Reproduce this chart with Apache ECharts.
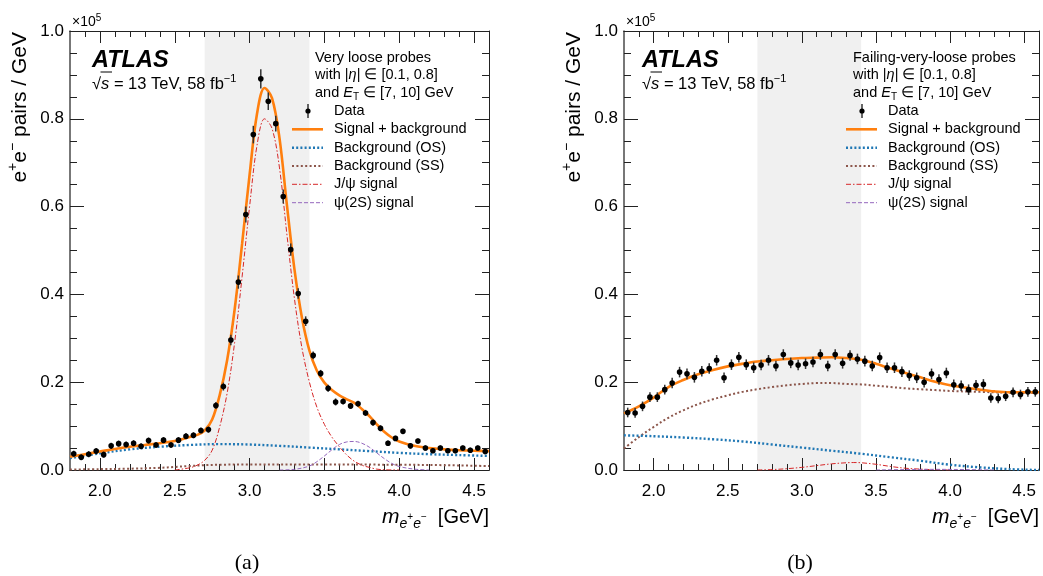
<!DOCTYPE html>
<html>
<head>
<meta charset="utf-8">
<script src="https://cdn.jsdelivr.net/npm/echarts@6/dist/echarts.min.js"></script>
<style>html,body{margin:0;padding:0;background:#fff}#c{width:1043px;height:576px}</style>
</head>
<body>
<div id="c"></div>
<script>
// ---------------- DATA ----------------
const binCenters = [1.825,1.875,1.925,1.975,2.025,2.075,2.125,2.175,2.225,2.275,2.325,2.375,2.425,2.475,2.525,2.575,2.625,2.675,2.725,2.775,2.825,2.875,2.925,2.975,3.025,3.075,3.125,3.175,3.225,3.275,3.325,3.375,3.425,3.475,3.525,3.575,3.625,3.675,3.725,3.775,3.825,3.875,3.925,3.975,4.025,4.075,4.125,4.175,4.225,4.275,4.325,4.375,4.425,4.475,4.525,4.575];

// panel (a): very loose probes (units of 1e5 pairs / GeV)
const dataA = [0.037,0.029,0.036,0.043,0.035,0.055,0.060,0.058,0.061,0.054,0.067,0.057,0.068,0.057,0.068,0.077,0.079,0.090,0.092,0.147,0.190,0.296,0.428,0.582,0.764,0.891,0.840,0.789,0.623,0.502,0.402,0.339,0.261,0.220,0.186,0.155,0.156,0.146,0.151,0.130,0.108,0.095,0.061,0.072,0.088,0.055,0.066,0.050,0.044,0.050,0.044,0.044,0.050,0.045,0.050,0.042];
const errA  = [0.007,0.007,0.007,0.007,0.007,0.007,0.007,0.007,0.007,0.007,0.007,0.007,0.007,0.007,0.007,0.007,0.007,0.007,0.007,0.008,0.009,0.012,0.015,0.018,0.020,0.022,0.020,0.018,0.016,0.014,0.012,0.011,0.009,0.008,0.008,0.008,0.007,0.007,0.007,0.007,0.007,0.007,0.006,0.006,0.006,0.006,0.006,0.006,0.006,0.006,0.006,0.006,0.006,0.006,0.006,0.006];

// panel (b): failing-very-loose probes
const dataB = [0.131,0.130,0.145,0.166,0.166,0.183,0.198,0.223,0.219,0.211,0.225,0.231,0.250,0.210,0.240,0.257,0.240,0.233,0.239,0.250,0.237,0.263,0.244,0.239,0.242,0.246,0.263,0.237,0.263,0.243,0.261,0.253,0.248,0.237,0.256,0.233,0.233,0.224,0.215,0.210,0.200,0.219,0.206,0.221,0.194,0.192,0.183,0.193,0.195,0.164,0.163,0.168,0.177,0.172,0.178,0.178];
const errB  = [0.011,0.011,0.011,0.011,0.011,0.011,0.012,0.012,0.012,0.012,0.012,0.012,0.012,0.012,0.012,0.012,0.012,0.012,0.012,0.012,0.012,0.012,0.012,0.012,0.012,0.012,0.012,0.012,0.012,0.012,0.012,0.012,0.012,0.012,0.012,0.012,0.012,0.012,0.012,0.012,0.012,0.012,0.012,0.012,0.012,0.012,0.012,0.012,0.012,0.011,0.011,0.011,0.011,0.011,0.011,0.011];

// fitted curves, panel (a)
const xTotA = [1.80,1.90,2.00,2.10,2.20,2.30,2.40,2.50,2.60,2.65,2.70,2.75,2.80,2.85,2.90,2.95,3.00,3.05,3.10,3.15,3.20,3.25,3.30,3.35,3.40,3.45,3.50,3.55,3.60,3.65,3.70,3.75,3.80,3.85,3.90,3.95,4.00,4.10,4.20,4.30,4.40,4.50,4.60];
const totA  = [0.030,0.036,0.042,0.048,0.053,0.057,0.061,0.066,0.075,0.080,0.090,0.115,0.170,0.250,0.365,0.515,0.672,0.812,0.870,0.847,0.756,0.602,0.457,0.347,0.272,0.226,0.199,0.182,0.170,0.161,0.153,0.139,0.123,0.104,0.087,0.074,0.065,0.055,0.050,0.047,0.045,0.044,0.043];
const xOsA  = [1.8,2.0,2.2,2.4,2.6,2.8,3.0,3.2,3.4,3.6,3.8,4.0,4.2,4.4,4.6];
const osA   = [0.027,0.038,0.047,0.053,0.057,0.059,0.058,0.055,0.051,0.047,0.043,0.039,0.036,0.034,0.032];
const xSsA  = [1.8,2.0,2.2,2.4,2.5,2.6,2.7,2.8,3.0,3.5,4.0,4.3,4.6];
const ssA   = [0.001,0.002,0.003,0.005,0.007,0.009,0.011,0.012,0.0125,0.0125,0.012,0.011,0.009];
const xJpsiA = [2.50,2.60,2.65,2.70,2.75,2.80,2.85,2.90,2.95,3.00,3.05,3.10,3.15,3.20,3.25,3.30,3.35,3.40,3.45,3.50,3.55,3.60,3.65,3.70,3.75,3.80,3.85,3.90,4.00];
const jpsiA  = [0.000,0.005,0.011,0.022,0.045,0.098,0.175,0.290,0.440,0.600,0.740,0.800,0.778,0.688,0.535,0.390,0.278,0.200,0.143,0.104,0.075,0.053,0.034,0.020,0.011,0.006,0.002,0.0005,0.000];
const xPsi2A = [3.20,3.30,3.40,3.45,3.50,3.55,3.60,3.65,3.70,3.75,3.80,3.85,3.90,3.95,4.00,4.10,4.20];
const psi2A  = [0.000,0.0015,0.009,0.019,0.032,0.046,0.058,0.064,0.065,0.061,0.052,0.039,0.026,0.015,0.008,0.002,0.000];

// fitted curves, panel (b)
const xTotB = [1.8,1.9,2.0,2.1,2.2,2.3,2.4,2.5,2.6,2.7,2.8,2.9,3.0,3.1,3.2,3.3,3.4,3.5,3.6,3.7,3.8,3.9,4.0,4.1,4.2,4.3,4.4,4.5,4.6];
const totB  = [0.129,0.145,0.165,0.189,0.205,0.218,0.228,0.236,0.242,0.247,0.250,0.253,0.255,0.256,0.257,0.255,0.251,0.242,0.231,0.221,0.211,0.201,0.193,0.188,0.183,0.179,0.177,0.177,0.177];
const xSsB  = [1.8,1.9,2.0,2.1,2.2,2.3,2.4,2.5,2.6,2.7,2.8,2.9,3.0,3.1,3.2,3.3,3.4,3.5,3.6,3.7,3.8,3.9,4.0,4.2,4.4,4.6];
const ssB   = [0.049,0.075,0.098,0.119,0.136,0.150,0.161,0.170,0.178,0.184,0.189,0.193,0.196,0.198,0.198,0.196,0.195,0.192,0.189,0.186,0.184,0.182,0.180,0.178,0.176,0.175];
const xOsB  = [1.8,2.0,2.2,2.4,2.6,2.8,3.0,3.2,3.4,3.6,3.8,4.0,4.2,4.4,4.6];
const osB   = [0.079,0.077,0.074,0.070,0.065,0.058,0.051,0.044,0.037,0.029,0.021,0.012,0.006,0.002,0.000];
const xJpsiB = [2.7,2.8,2.9,3.0,3.1,3.2,3.3,3.35,3.4,3.5,3.6,3.7,3.8,3.9,4.0];
const jpsiB  = [0.000,0.001,0.003,0.006,0.010,0.014,0.0165,0.017,0.0165,0.013,0.008,0.004,0.002,0.0005,0.000];
const xPsi2B = [3.5,3.7,3.9,4.1,4.3];
const psi2B  = [0.000,0.001,0.0015,0.001,0.000];

// shaded signal window and axis ticks
const bandA = [2.7, 3.4];
const bandB = [2.7, 3.4];
const xRange = [1.8, 4.6];
const yRange = [0, 1.0];
const yStep = 0.2;
const xMajorTicks = [2.0, 2.5, 3.0, 3.5, 4.0, 4.5];
const xMinorTicks = [1.9, 2.1, 2.2, 2.3, 2.4, 2.6, 2.7, 2.8, 2.9, 3.1, 3.2, 3.3, 3.4, 3.6, 3.7, 3.8, 3.9, 4.1, 4.2, 4.3, 4.4];

const seriesNames = ['Data', 'Signal + background', 'Background (OS)', 'Background (SS)', 'J/ψ signal', 'ψ(2S) signal'];
const probeTitles = ['Very loose probes', 'Failing-very-loose probes'];
const captions = ['(a)', '(b)'];

// ---------------- STYLE ----------------
const FONT = "'Liberation Sans', Arial, Helvetica, sans-serif";
const C = { tot: '#ff7f0e', os: '#1f77b4', ss: '#8c564b', jpsi: '#d62728', psi2: '#9467bd', band: '#f0f0f0', axis: '#222' };
const ST = {
  tot:  { color: C.tot,  width: 2.6, type: 'solid' },
  os:   { color: C.os,   width: 2.4, type: [2, 2.2] },
  ss:   { color: C.ss,   width: 2.0, type: [2, 2.4] },
  jpsi: { color: C.jpsi, width: 1.0, type: [5, 2, 1.5, 2] },
  psi2: { color: C.psi2, width: 1.0, type: [4, 2] }
};

const grids = [
  { left: 70, top: 31, width: 419, height: 439 },
  { left: 624, top: 31, width: 415, height: 439 }
];

const pairs = (xs, ys) => xs.map((x, i) => [x, ys[i]]);

function xAx(g, pos, ticks, len, labels) {
  return {
    type: 'value', gridIndex: g, position: pos, min: xRange[0], max: xRange[1], z: 3,
    axisLine: { show: true, onZero: false, lineStyle: { color: C.axis, width: 1 } },
    axisTick: { show: true, inside: true, length: len, customValues: ticks, lineStyle: { color: C.axis, width: 1 } },
    axisLabel: { show: labels, customValues: ticks, formatter: v => v.toFixed(1), fontSize: 17, fontFamily: FONT, color: '#000', margin: 13 },
    splitLine: { show: false }
  };
}
function yAx(g, pos, labels) {
  return {
    type: 'value', gridIndex: g, position: pos, min: yRange[0], max: yRange[1], interval: yStep, z: 3,
    axisLine: { show: true, onZero: false, lineStyle: { color: pos === 'left' ? '#555' : C.axis, width: pos === 'left' ? 1.6 : 1 } },
    axisTick: { show: true, inside: true, length: 14, lineStyle: { color: C.axis, width: 1 } },
    minorTick: { show: true, splitNumber: 4, length: 7, lineStyle: { color: C.axis, width: 1 } },
    axisLabel: { show: labels, formatter: v => v.toFixed(1), fontSize: 17, fontFamily: FONT, color: '#000', margin: 6 },
    splitLine: { show: false }
  };
}

const xAxes = [], yAxes = [], series = [];
const panelData = [
  { data: dataA, err: errA, band: bandA, tot: [xTotA, totA], os: [xOsA, osA], ss: [xSsA, ssA], jpsi: [xJpsiA, jpsiA], psi2: [xPsi2A, psi2A] },
  { data: dataB, err: errB, band: bandB, tot: [xTotB, totB], os: [xOsB, osB], ss: [xSsB, ssB], jpsi: [xJpsiB, jpsiB], psi2: [xPsi2B, psi2B] }
];

panelData.forEach((P, g) => {
  const xi = xAxes.length, yi = yAxes.length;
  xAxes.push(xAx(g, 'bottom', xMajorTicks, 12, true));
  xAxes.push(xAx(g, 'bottom', xMinorTicks, 6, false));
  xAxes.push(xAx(g, 'top', xMajorTicks, 12, false));
  xAxes.push(xAx(g, 'top', xMinorTicks, 6, false));
  yAxes.push(yAx(g, 'left', true));
  yAxes.push(yAx(g, 'right', false));

  // shaded window
  series.push({
    type: 'line', xAxisIndex: xi, yAxisIndex: yi, data: [], z: 1, silent: true,
    markArea: { silent: true, itemStyle: { color: C.band }, data: [[{ xAxis: P.band[0] }, { xAxis: P.band[1] }]] }
  });
  const curve = (name, key, z) => ({
    type: 'line', name, xAxisIndex: xi, yAxisIndex: yi, data: pairs(P[key][0], P[key][1]),
    showSymbol: false, smooth: 0.35, z, silent: true, lineStyle: ST[key]
  });
  series.push(curve(seriesNames[3], 'ss', 4));
  series.push(curve(seriesNames[2], 'os', 4));
  series.push(curve(seriesNames[4], 'jpsi', 4));
  series.push(curve(seriesNames[5], 'psi2', 4));
  series.push(curve(seriesNames[1], 'tot', 5));
  series.push({
    type: 'custom', name: seriesNames[0], xAxisIndex: xi, yAxisIndex: yi, z: 6, silent: true,
    data: binCenters.map((x, i) => [x, P.data[i], P.err[i]]),
    encode: { x: 0, y: 1 },
    renderItem: (params, api) => {
      const x = api.value(0), y = api.value(1), e = api.value(2);
      const p = api.coord([x, y]), hi = api.coord([x, y + e]), lo = api.coord([x, y - e]);
      return { type: 'group', children: [
        { type: 'line', shape: { x1: p[0], y1: hi[1], x2: p[0], y2: lo[1] }, style: { stroke: '#333', lineWidth: 1.5 } },
        { type: 'circle', shape: { cx: p[0], cy: p[1], r: 2.8 }, style: { fill: '#000' } }
      ] };
    }
  });
});

// ---------------- TEXT / LEGEND (graphic) ----------------
const graphic = [];
const T = (x, y, text, font, align, extra) => ({
  type: 'text', x, y, z: 20, silent: true,
  style: Object.assign({ text, font, fill: '#000', textAlign: align || 'left', align: align || 'left', textVerticalAlign: 'middle', verticalAlign: 'middle' }, extra || {})
});

const layouts = [
  { gx: 70, gr: 489, atlasX: 92, textX: 315, legLine: [292, 323], legMark: 308, legText: 334, yName: 20, cap: 247 },
  { gx: 624, gr: 1039, atlasX: 642, textX: 853, legLine: [846, 877], legMark: 862, legText: 888, yName: 574, cap: 800 }
];
const legRows = [111, 129.3, 147.7, 166, 184.3, 202.7];
const legKeys = ['tot', 'os', 'ss', 'jpsi', 'psi2'];

layouts.forEach((L, g) => {
  // x10^5
  graphic.push(T(L.gx + 2, 22, '×10{sup|5}', `14px ${FONT}`, 'left', {
    lineHeight: 18, rich: { sup: { fontSize: 10, fontFamily: FONT, fill: '#000', verticalAlign: 'top', lineHeight: 10 } }
  }));
  // ATLAS
  graphic.push(T(L.atlasX, 61, 'ATLAS', `italic bold 23.5px ${FONT}`, 'left'));
  // sqrt(s)
  graphic.push(T(L.atlasX, 84, '√{s|s} = 13 TeV, 58 fb{sup|−1}', `16.5px ${FONT}`, 'left', {
    lineHeight: 22,
    rich: {
      s: { fontStyle: 'italic', fontSize: 16.5, fontFamily: FONT, fill: '#000', lineHeight: 22 },
      sup: { fontSize: 11, fontFamily: FONT, fill: '#000', verticalAlign: 'top', lineHeight: 12 }
    }
  }));
  graphic.push({ type: 'line', z: 20, silent: true, shape: { x1: L.atlasX + 8.5, y1: 72, x2: L.atlasX + 20, y2: 72 }, style: { stroke: '#000', lineWidth: 1 } });
  // selection text
  graphic.push(T(L.textX, 58, probeTitles[g], `14.5px ${FONT}`, 'left'));
  graphic.push(T(L.textX, 75, 'with |{i|η}| ∈ [0.1, 0.8]', `14.5px ${FONT}`, 'left', {
    rich: { i: { fontStyle: 'italic', fontSize: 14.5, fontFamily: FONT, fill: '#000' } }
  }));
  graphic.push(T(L.textX, 92.5, 'and {i|E}{sub|T} ∈ [7, 10] GeV', `14.5px ${FONT}`, 'left', {
    lineHeight: 20,
    rich: {
      i: { fontStyle: 'italic', fontSize: 14.5, fontFamily: FONT, fill: '#000', lineHeight: 20 },
      sub: { fontSize: 10, fontFamily: FONT, fill: '#000', verticalAlign: 'bottom', lineHeight: 12 }
    }
  }));
  // legend: data
  graphic.push({ type: 'line', z: 20, silent: true, shape: { x1: L.legMark, y1: legRows[0] - 7, x2: L.legMark, y2: legRows[0] + 7 }, style: { stroke: '#333', lineWidth: 1.5 } });
  graphic.push({ type: 'circle', z: 20, silent: true, shape: { cx: L.legMark, cy: legRows[0], r: 2.6 }, style: { fill: '#000' } });
  graphic.push(T(L.legText, legRows[0], seriesNames[0], `14.5px ${FONT}`, 'left'));
  legKeys.forEach((k, i) => {
    const s = ST[k];
    graphic.push({ type: 'line', z: 20, silent: true,
      shape: { x1: L.legLine[0], y1: legRows[i + 1], x2: L.legLine[1], y2: legRows[i + 1] },
      style: { stroke: s.color, lineWidth: s.width, lineDash: s.type === 'solid' ? null : s.type } });
    graphic.push(T(L.legText, legRows[i + 1], seriesNames[i + 1], `14.5px ${FONT}`, 'left'));
  });
  // y axis title (rotated)
  graphic.push({
    type: 'text', x: L.yName, y: 32, rotation: Math.PI / 2, z: 20, silent: true,
    style: { text: 'e{sup|+}e{sup|−} pairs / GeV', font: `21px ${FONT}`, fill: '#000', textAlign: 'right', align: 'right', textVerticalAlign: 'middle', verticalAlign: 'middle', lineHeight: 28,
      rich: { sup: { fontSize: 14, fontFamily: FONT, fill: '#000', verticalAlign: 'top', lineHeight: 14 } } }
  });
  // x axis title
  graphic.push(T(L.gr, 517, '{m|m}{sb|e}{ss|+}{sb|e}{ss|−}  [GeV]', `20px ${FONT}`, 'right', {
    lineHeight: 28,
    rich: {
      m: { fontStyle: 'italic', fontSize: 21, fontFamily: FONT, fill: '#000', lineHeight: 28 },
      sb: { fontStyle: 'italic', fontSize: 14, fontFamily: FONT, fill: '#000', verticalAlign: 'bottom', lineHeight: 16 },
      ss: { fontSize: 10, fontFamily: FONT, fill: '#000', verticalAlign: 'middle', lineHeight: 12 }
    }
  }));
  // caption
  graphic.push(T(L.cap, 563, captions[g], `22px 'Liberation Serif', 'DejaVu Serif', serif`, 'center'));
});

const chart = echarts.init(document.getElementById('c'), null, { renderer: 'canvas' });
chart.setOption({
  animation: false,
  backgroundColor: '#fff',
  grid: grids,
  xAxis: xAxes,
  yAxis: yAxes,
  series,
  graphic
});
</script>
</body>
</html>
